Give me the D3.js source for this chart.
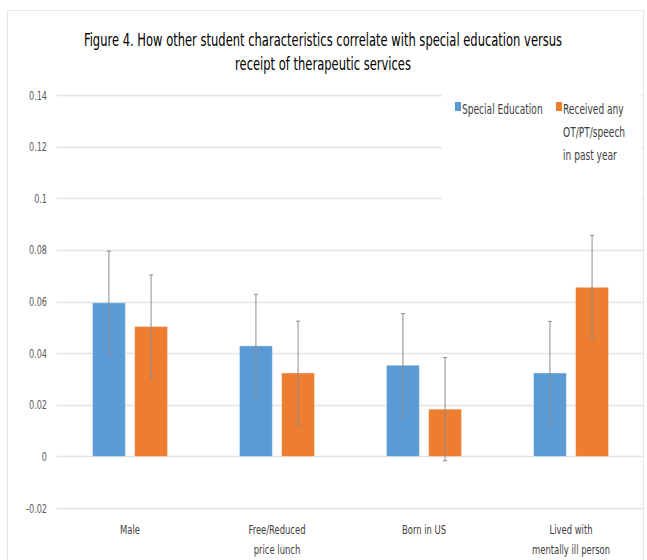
<!DOCTYPE html>
<html lang="en">
<head>
<meta charset="UTF-8">
<title>Figure 4</title>
<script src="https://d3js.org/d3.v7.min.js"></script>
<style>
    body, html { margin: 0; padding: 0; background: #fff; overflow: hidden; }
    svg { display: block; }
    text { font-family: "Liberation Sans Narrow", "DejaVu Sans Condensed", "Roboto", sans-serif; }
</style>
</head>
<body>
<svg width="647" height="560"></svg>
<script>
    const categories = [["Male"], ["Free/Reduced", "price lunch"], ["Born in US"], ["Lived with", "mentally ill person"]];
    const seriesNames = ["Special Education", "Received any OT/PT/speech in past year"];
    const legendLines = ["Received any", "OT/PT/speech", "in past year"];
    const specialEd = [0.0595, 0.0428, 0.0353, 0.0323];
    const therapy = [0.0503, 0.0323, 0.0183, 0.0655];
    const specialEdErr = [0.02, 0.02, 0.02, 0.02];
    const therapyErr = [0.02, 0.0201, 0.02, 0.0201];
    const yTicks = [-0.02, 0, 0.02, 0.04, 0.06, 0.08, 0.1, 0.12, 0.14];
    const titleLines = ["Figure 4. How other student characteristics correlate with special education versus",
                        "receipt of therapeutic services"];

    const colors = ["#5B9BD5", "#ED7D31"];
    const squeeze = 0.72; // narrow the glyphs, the original font is condensed
    const svg = d3.select('svg');

    function place(sel, x, y) {
        return sel.attr('transform', `translate(${x},${y}) scale(${squeeze},1)`);
    }

    // chart area border
    svg.append('rect')
        .attr('x', 7.5).attr('y', 10.5)
        .attr('width', 636).attr('height', 560)
        .attr('fill', 'none').attr('stroke', '#e6e6e6');

    const y = d3.scaleLinear().domain([-0.02, 0.14]).range([508, 95]);
    const x0 = d3.scaleBand().domain(d3.range(categories.length)).range([56.5, 644.5]);
    const x1 = d3.scaleBand().domain([0, 1]).range([36, x0.bandwidth() - 36]).paddingInner(0.22);

    // gridlines
    svg.append('g').selectAll('line')
        .data(yTicks)
        .enter().append('line')
        .attr('x1', 56.5).attr('x2', 643)
        .attr('y1', d => Math.round(y(d)) + 0.5)
        .attr('y2', d => Math.round(y(d)) + 0.5)
        .attr('stroke', '#e3e3e3')
        .attr('stroke-width', 1.3);

    // y labels
    svg.append('g').selectAll('text')
        .data(yTicks)
        .enter().append('text')
        .each(function(d) { place(d3.select(this), 47, y(d) + 4.5); })
        .attr('text-anchor', 'end')
        .attr('font-size', 12.5)
        .attr('fill', '#595959')
        .text(d => d === 0 ? '0' : String(+d.toFixed(2)));

    const series = [
        { vals: specialEd, errs: specialEdErr },
        { vals: therapy, errs: therapyErr }
    ];

    const groups = svg.append('g').selectAll('g')
        .data(categories)
        .enter().append('g')
        .attr('transform', (d, i) => `translate(${x0(i)},0)`);

    groups.each(function(cat, i) {
        const g = d3.select(this);
        series.forEach((s, k) => {
            const v = s.vals[i];
            g.append('rect')
                .attr('x', x1(k))
                .attr('width', x1.bandwidth())
                .attr('y', y(Math.max(0, v)))
                .attr('height', Math.abs(y(v) - y(0)))
                .attr('fill', colors[k])
                .attr('stroke', 'rgba(255,255,255,0.35)')
                .attr('stroke-width', 1);
        });
        series.forEach((s, k) => {
            const v = s.vals[i], e = s.errs[i];
            const cx = x1(k) + x1.bandwidth() / 2;
            const eb = g.append('g').attr('stroke', '#8c8c8c').attr('stroke-width', 1);
            eb.append('line').attr('x1', cx).attr('x2', cx).attr('y1', y(v + e)).attr('y2', y(v - e));
            eb.append('line').attr('x1', cx - 2).attr('x2', cx + 2).attr('y1', y(v + e)).attr('y2', y(v + e));
            eb.append('line').attr('x1', cx - 2).attr('x2', cx + 2).attr('y1', y(v - e)).attr('y2', y(v - e));
        });
        const t = place(g.append('text'), x0.bandwidth() / 2, 534)
            .attr('text-anchor', 'middle')
            .attr('font-size', 13)
            .attr('fill', '#404040');
        cat.forEach((line, j) => {
            t.append('tspan')
                .attr('x', 0)
                .attr('y', j * 20)
                .text(line);
        });
    });

    // title
    svg.append('g').selectAll('text')
        .data(titleLines)
        .enter().append('text')
        .each(function(d, i) { place(d3.select(this), 323, 46 + i * 24); })
        .attr('text-anchor', 'middle')
        .attr('font-size', 17.8)
        .attr('fill', '#000')
        .text(d => d);

    // legend
    const legend = svg.append('g');
    legend.append('rect').attr('x', 442).attr('y', 86).attr('width', 199).attr('height', 124).attr('fill', '#fff');
    legend.append('rect').attr('x', 455).attr('y', 102).attr('width', 6).attr('height', 9).attr('fill', colors[0]);
    place(legend.append('text'), 462, 114).attr('font-size', 14).attr('fill', '#404040').text(seriesNames[0]);
    legend.append('rect').attr('x', 556).attr('y', 102).attr('width', 6).attr('height', 9).attr('fill', colors[1]);
    const lt = place(legend.append('text'), 563, 114).attr('font-size', 14).attr('fill', '#404040');
    legendLines.forEach((line, j) => {
        lt.append('tspan').attr('x', 0).attr('y', j * 23).text(line);
    });
</script>
</body>
</html>
